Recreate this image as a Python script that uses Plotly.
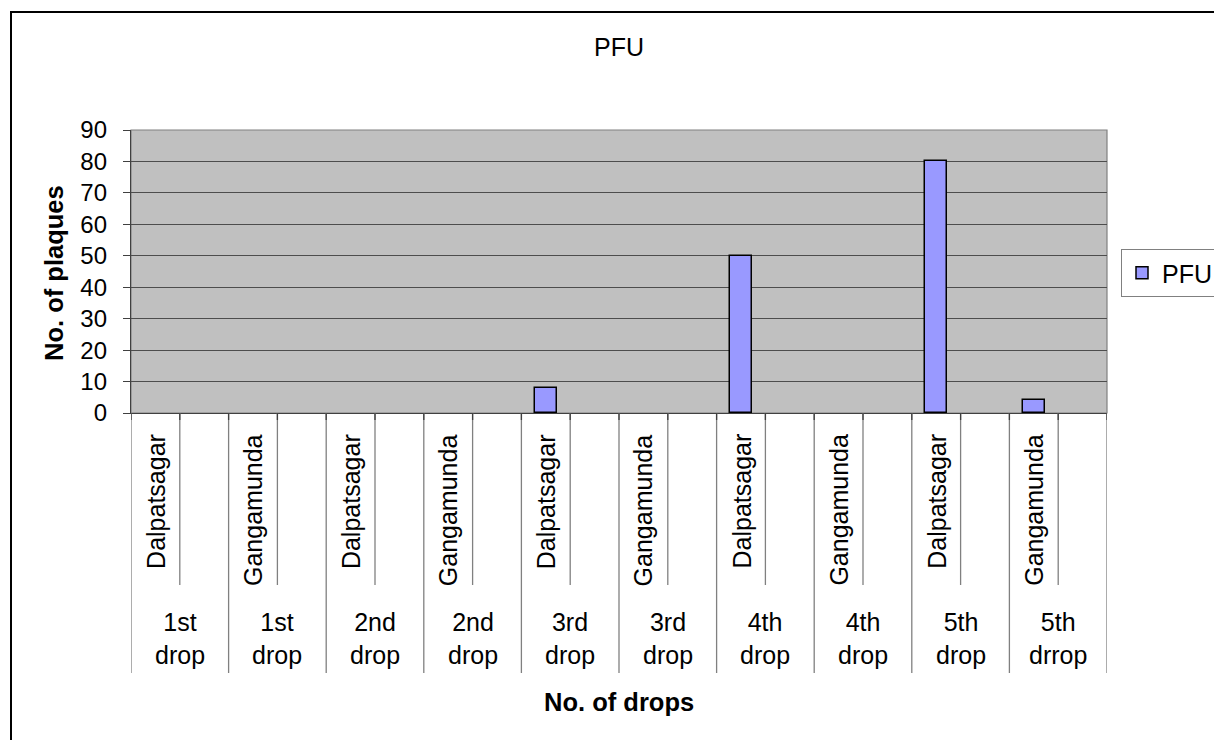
import plotly.graph_objects as go

# Data: plaque counts per drop and site
drops = ["1st drop", "1st drop", "2nd drop", "2nd drop", "3rd drop",
         "3rd drop", "4th drop", "4th drop", "5th drop", "5th drrop"]
sites = ["Dalpatsagar", "Gangamunda", "Dalpatsagar", "Gangamunda", "Dalpatsagar",
         "Gangamunda", "Dalpatsagar", "Gangamunda", "Dalpatsagar", "Gangamunda"]
pfu = [0, 0, 0, 0, 8, 0, 50, 0, 80, 4]
y_ticks = [0, 10, 20, 30, 40, 50, 60, 70, 80, 90]

FONT = "Liberation Sans, Arial, sans-serif"
W, H = 1214, 740
L, R, T, B = 131, 1107, 130, 413          # plot-area edges in pixels
PW, PH = R - L, B - T


def px(xp):
    return (xp - L) / PW


def py(yp):
    return (B - yp) / PH


# each category occupies two slots: the data slot and an empty slot
xpos = [2 * i for i in range(len(pfu))]
n_slots = 2 * len(pfu)

# zero counts leave their slot empty (no flat outline drawn)
bar_y = [v if v > 0 else None for v in pfu]

fig = go.Figure()
fig.add_trace(go.Bar(
    x=xpos, y=bar_y, name="PFU", width=0.46,
    marker=dict(color="#9999FF", line=dict(color="#000000", width=1.5)),
))

shapes = []
annotations = []

# category-axis dividers: short ones between the site slot and blank slot,
# long ones between drop groups
for i in range(len(pfu)):
    shapes.append(dict(type="line", xref="x", yref="paper",
                       x0=xpos[i] + 0.5, x1=xpos[i] + 0.5, y0=0, y1=py(585),
                       line=dict(color="#808080", width=1.3)))
for i in range(len(pfu) + 1):
    xb = 2 * i - 0.5
    shapes.append(dict(type="line", xref="x", yref="paper",
                       x0=xb, x1=xb, y0=0, y1=py(673),
                       line=dict(color="#808080", width=1.3)))
# small dark tick marks below the axis at every slot boundary
for j in range(n_slots + 1):
    xb = j - 0.5
    shapes.append(dict(type="line", xref="x", yref="paper",
                       x0=xb, x1=xb, y0=0, y1=py(420),
                       line=dict(color="#404040", width=1.3)))

# plot-area frame (top and right in grey)
shapes.append(dict(type="rect", xref="paper", yref="paper", x0=0, x1=1, y0=0, y1=1,
                   line=dict(color="#808080", width=1.2), layer="below"))
# chart-area border
shapes.append(dict(type="rect", xref="paper", yref="paper",
                   x0=px(11), x1=px(1240), y0=py(760), y1=py(12),
                   line=dict(color="#000000", width=2)))

# site labels (rotated) and drop-group labels
for i in range(len(pfu)):
    annotations.append(dict(
        xref="x", yref="paper", x=xpos[i], y=py(432), text=sites[i],
        textangle=-90, xanchor="center", yanchor="top", showarrow=False,
        font=dict(family=FONT, size=25, color="#000000")))
    annotations.append(dict(
        xref="x", yref="paper", x=xpos[i] + 0.5, y=py(638),
        text=drops[i].replace(" ", "<br>"),
        xanchor="center", yanchor="middle", showarrow=False,
        font=dict(family=FONT, size=25, color="#000000")))

# axis titles
annotations.append(dict(
    xref="paper", yref="paper", x=px(54), y=py(273), text="<b>No. of plaques</b>",
    textangle=-90, showarrow=False, xanchor="center", yanchor="middle",
    font=dict(family=FONT, size=25.5, color="#000000")))
annotations.append(dict(
    xref="paper", yref="paper", x=0.5, y=py(702), text="<b>No. of drops</b>",
    showarrow=False, xanchor="center", yanchor="middle",
    font=dict(family=FONT, size=25.5, color="#000000")))

fig.update_layout(
    width=W, height=H,
    margin=dict(l=L, r=W - R, t=T, b=H - B, autoexpand=False),
    paper_bgcolor="#FFFFFF",
    plot_bgcolor="#C0C0C0",
    font=dict(family=FONT, size=24, color="#000000"),
    title=dict(text="PFU", x=0.5, xref="paper", y=1 - 47 / H, yref="container",
               xanchor="center", yanchor="middle",
               font=dict(family=FONT, size=25, color="#000000")),
    bargap=0,
    showlegend=True,
    legend=dict(x=px(1121), y=py(249), xanchor="left", yanchor="top",
                bordercolor="#808080", borderwidth=1, bgcolor="#FFFFFF",
                font=dict(family=FONT, size=25, color="#000000"),
                itemwidth=30, tracegroupgap=0),
    xaxis=dict(range=[-0.5, n_slots - 0.5], showticklabels=False, ticks="",
               showgrid=False, zeroline=False, showline=True,
               linecolor="#404040", linewidth=1.3),
    yaxis=dict(range=[0, 90], tickvals=y_ticks, ticktext=[str(v) for v in y_ticks],
               ticks="outside", ticklen=7, tickcolor="#404040", tickwidth=1.3,
               ticklabelstandoff=11,
               showgrid=True, gridcolor="#4d4d4d", gridwidth=1.2,
               zeroline=False, showline=True, linecolor="#404040", linewidth=1.3,
               tickfont=dict(family=FONT, size=24, color="#000000")),
    shapes=shapes,
    annotations=annotations,
)

fig.write_html("out.html")
